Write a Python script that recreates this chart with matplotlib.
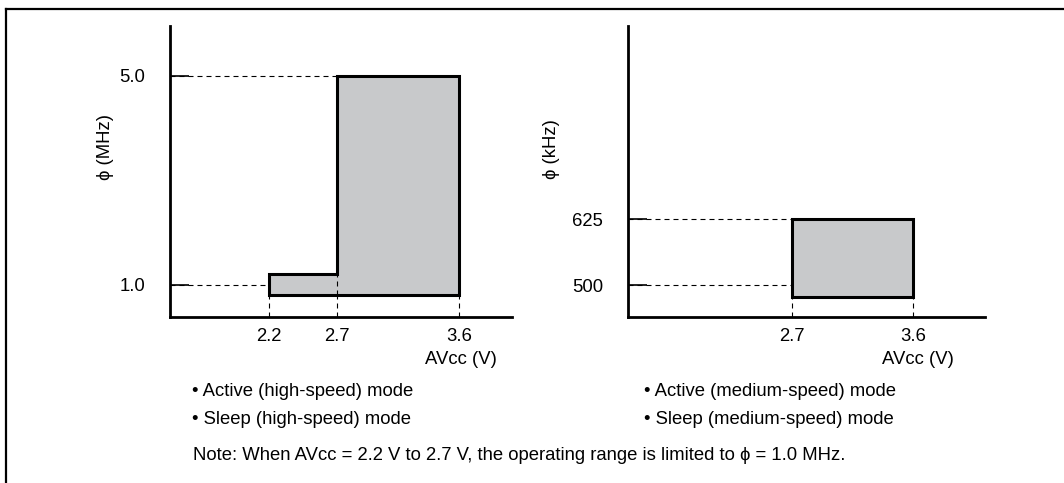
import matplotlib
matplotlib.use('Agg')
import matplotlib.pyplot as plt
from matplotlib.lines import Line2D

plt.rcParams['font.family'] = ['Liberation Sans', 'DejaVu Sans']
plt.rcParams['font.size'] = 13.3

# high-speed operating range (AVcc in V, phi in MHz)
hs_v = [2.2, 2.2, 2.7, 2.7, 3.6, 3.6]
hs_f = [0.8, 1.2, 1.2, 5.0, 5.0, 0.8]
hs_xticks = [2.2, 2.7, 3.6]
hs_yticks = [1.0, 5.0]
hs_ylabels = ['1.0', '5.0']

# medium-speed operating range (AVcc in V, phi in kHz)
ms_v = [2.7, 2.7, 3.6, 3.6]
ms_f = [477, 625, 625, 477]
ms_xticks = [2.7, 3.6]
ms_yticks = [500, 625]
ms_ylabels = ['500', '625']

hs_modes = ['\u2022 Active (high-speed) mode', '\u2022 Sleep (high-speed) mode']
ms_modes = ['\u2022 Active (medium-speed) mode', '\u2022 Sleep (medium-speed) mode']
note = 'Note: When AVcc = 2.2 V to 2.7 V, the operating range is limited to \u03d5 = 1.0 MHz.'

W, H = 1064, 483
fig = plt.figure(figsize=(W / 100, H / 100), dpi=100)

fill_c = '#c8c9cb'
dash = dict(color='black', lw=0.8, dashes=(4.5, 3.6))


def setup(ax, xlim, ylim, xticks, yticks, ylabels):
    ax.set_xlim(*xlim)
    ax.set_ylim(*ylim)
    for s in ['top', 'right']:
        ax.spines[s].set_visible(False)
    for s in ['left', 'bottom']:
        ax.spines[s].set_linewidth(2.0)
    ax.set_xticks(xticks)
    ax.set_xticklabels([str(t) for t in xticks])
    ax.set_yticks(yticks)
    ax.set_yticklabels(ylabels)
    ax.tick_params(axis='y', direction='in', length=14, width=1.2, pad=18)
    ax.tick_params(axis='x', length=0, pad=8)
    ax.patch.set_visible(False)


ybot = 1 - 317 / H
hgt = 291 / H

# left panel
ax1 = fig.add_axes([170 / W, ybot, 342 / W, hgt])
setup(ax1, (1.470, 3.991), (0.382, 5.95), hs_xticks, hs_yticks, hs_ylabels)
ax1.fill(hs_v, hs_f, facecolor=fill_c, edgecolor='black', lw=2.2, zorder=2)
ax1.plot([1.470, 2.7], [5.0, 5.0], **dash, zorder=1)
ax1.plot([1.470, 2.2], [1.0, 1.0], **dash, zorder=1)
for x in hs_xticks:
    ax1.plot([x, x], [0.382, min(hs_f)], **dash, zorder=1)
ax1.plot([2.7, 2.7], [min(hs_f), 1.2], **dash, zorder=3)

# right panel
ax2 = fig.add_axes([628 / W, ybot, 357 / W, hgt])
setup(ax2, (1.472, 4.14), (440, 991), ms_xticks, ms_yticks, ms_ylabels)
ax2.fill(ms_v, ms_f, facecolor=fill_c, edgecolor='black', lw=2.2, zorder=2)
for y in ms_yticks:
    ax2.plot([1.472, 2.7], [y, y], **dash, zorder=1)
for x in ms_xticks:
    ax2.plot([x, x], [440, min(ms_f)], **dash, zorder=1)

# axis titles
fig.text(105 / W, 1 - 147 / H, '\u03d5 (MHz)', rotation=90, ha='center', va='center')
fig.text(551 / W, 1 - 149 / H, '\u03d5 (kHz)', rotation=90, ha='center', va='center')
fig.text(497 / W, 1 - 359 / H, 'AVcc (V)', ha='right', va='center')
fig.text(954 / W, 1 - 359 / H, 'AVcc (V)', ha='right', va='center')

for i, t in enumerate(hs_modes):
    fig.text(192 / W, 1 - (391 + 29 * i) / H, t, ha='left', va='center')
for i, t in enumerate(ms_modes):
    fig.text(644 / W, 1 - (391 + 29 * i) / H, t, ha='left', va='center')
fig.text(193 / W, 1 - 455 / H, note, ha='left', va='center')

# frame (top and left edges)
fig.add_artist(Line2D([6 / W, 1], [1 - 9 / H, 1 - 9 / H], color='black', lw=1.6, transform=fig.transFigure))
fig.add_artist(Line2D([6 / W, 6 / W], [0, 1 - 9 / H], color='black', lw=1.6, transform=fig.transFigure))

fig.savefig('out.png', dpi=100)
